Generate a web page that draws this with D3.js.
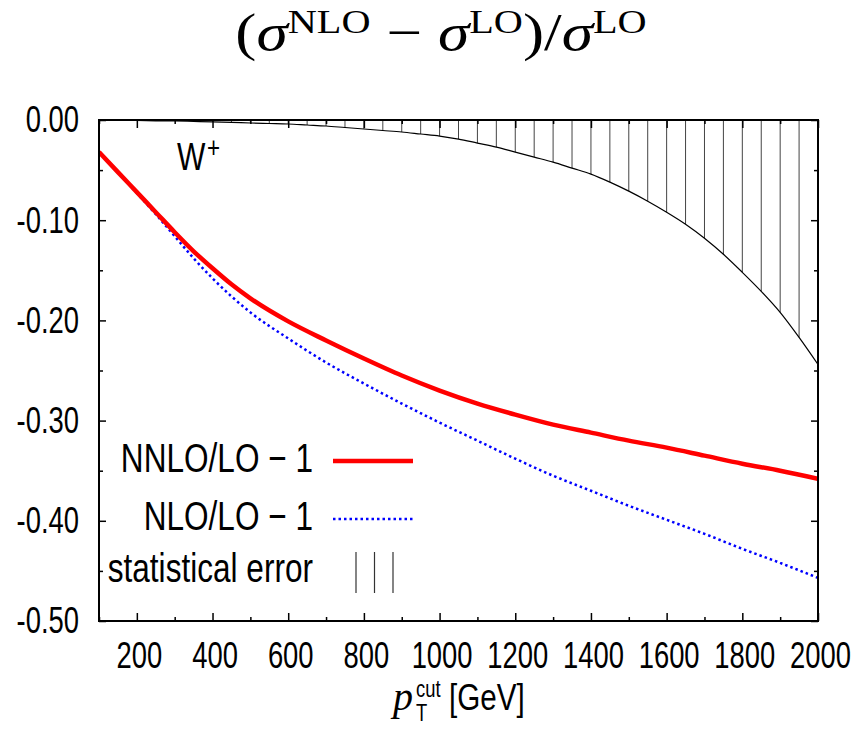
<!DOCTYPE html>
<html>
<head>
<meta charset="utf-8">
<script src="https://cdn.jsdelivr.net/npm/d3@7"></script>
<style>
  body { margin: 0; background: #fff; }
  text { font-family: "Liberation Sans", Arial, sans-serif; fill: #000; }
  .serif { font-family: "Liberation Serif", "DejaVu Serif", serif; }
</style>
</head>
<body>
<div id="chart"></div>
<script>
// pT cut values (GeV) for the two ratio curves
const ptCut = [100, 150, 200, 250, 300, 350, 400, 450, 500, 600, 700, 800, 900, 1000,
               1100, 1200, 1300, 1400, 1500, 1600, 1700, 1800, 1900, 2000];
const nnloRatio = [-0.032, -0.052, -0.072, -0.092, -0.112, -0.131, -0.148, -0.164, -0.178, -0.201,
                   -0.220, -0.238, -0.255, -0.270, -0.283, -0.294, -0.304, -0.312, -0.320, -0.327,
                   -0.335, -0.343, -0.350, -0.358];
const nloRatio = [-0.032, -0.052, -0.073, -0.094, -0.116, -0.138, -0.158, -0.176, -0.192, -0.218,
                  -0.242, -0.263, -0.283, -0.302, -0.320, -0.338, -0.355, -0.370, -0.385, -0.399,
                  -0.413, -0.428, -0.442, -0.457];

// statistical error band (drawn from 0 down to this value)
const errPt = [100, 150, 200, 250, 300, 350, 400, 450, 500, 550, 600, 650, 700, 750, 800, 850,
               900, 950, 1000, 1050, 1100, 1150, 1200, 1250, 1300, 1350, 1400, 1450, 1500, 1550,
               1600, 1650, 1700, 1750, 1800, 1850, 1900, 1950, 2000];
const errBand = [0, -0.0003, -0.0005, -0.0008, -0.001, -0.0014, -0.0018, -0.0023, -0.003, -0.0035,
                 -0.004, -0.005, -0.006, -0.0075, -0.009, -0.0105, -0.012, -0.014, -0.016, -0.019,
                 -0.023, -0.027, -0.032, -0.037, -0.042, -0.048, -0.054, -0.062, -0.071, -0.081,
                 -0.092, -0.104, -0.118, -0.134, -0.152, -0.171, -0.192, -0.217, -0.244];

const xTicks = [200, 400, 600, 800, 1000, 1200, 1400, 1600, 1800, 2000];
const xMinorTicks = [100, 300, 500, 700, 900, 1100, 1300, 1500, 1700, 1900];
const yTicks = [0, -0.1, -0.2, -0.3, -0.4, -0.5];
const yMinorTicks = [-0.05, -0.15, -0.25, -0.35, -0.45];
const legendLabels = ["NNLO/LO \u2212 1", "NLO/LO \u2212 1", "statistical error"];

const width = 859, height = 744;
const margin = { top: 120, left: 99, right: 41, bottom: 123 };
const plotW = width - margin.left - margin.right;
const plotH = height - margin.top - margin.bottom;

// squeeze (or stretch) text horizontally to match the original's faces
function condense(sel, k) {
  sel.each(function() {
    const w = this.getComputedTextLength();
    d3.select(this).attr("textLength", w * k).attr("lengthAdjust", "spacingAndGlyphs");
  });
}

const svg = d3.select("#chart").append("svg")
    .attr("width", width)
    .attr("height", height)
    .style("background", "#fff");

const x = d3.scaleLinear().domain([100, 2000]).range([0, plotW]);
const y = d3.scaleLinear().domain([-0.5, 0]).range([plotH, 0]);

const g = svg.append("g")
    .attr("transform", "translate(" + margin.left + "," + margin.top + ")");

g.append("clipPath").attr("id", "clip")
  .append("rect").attr("width", plotW).attr("height", plotH);

const plot = g.append("g").attr("clip-path", "url(#clip)");

// hatched error band: vertical lines from 0 down to the error curve
plot.selectAll(".hatch")
  .data(errPt.map((p, i) => [p, errBand[i]]))
  .enter().append("line")
    .attr("class", "hatch")
    .attr("x1", d => x(d[0])).attr("x2", d => x(d[0]))
    .attr("y1", y(0)).attr("y2", d => y(d[1]))
    .attr("stroke", "#444")
    .attr("stroke-width", 1);

const line = d3.line().curve(d3.curveMonotoneX);

plot.append("path")
    .attr("d", line(errPt.map((p, i) => [x(p), y(errBand[i])])))
    .attr("fill", "none")
    .attr("stroke", "#000")
    .attr("stroke-width", 1.2);

plot.append("path")
    .attr("d", line(ptCut.map((p, i) => [x(p), y(nloRatio[i])])))
    .attr("fill", "none")
    .attr("stroke", "#0000ff")
    .attr("stroke-width", 2.5)
    .attr("stroke-dasharray", "2.5,3");

plot.append("path")
    .attr("d", line(ptCut.map((p, i) => [x(p), y(nnloRatio[i])])))
    .attr("fill", "none")
    .attr("stroke", "#ff0000")
    .attr("stroke-width", 4.5);

// axes, ticks pointing inward, mirrored on top and right
function styleAxis(sel) {
  sel.select(".domain").remove();
  sel.selectAll(".tick line").attr("stroke", "#000").attr("stroke-width", 1.5);
  sel.selectAll(".tick text").style("font-size", "37px")
     .style("font-family", "'Liberation Sans', Arial, sans-serif");
}

const xAxis = g.append("g").attr("transform", "translate(0," + plotH + ")")
  .call(d3.axisBottom(x).tickValues(xTicks).tickSize(-8).tickPadding(21).tickFormat(d3.format("d")))
  .call(styleAxis);
xAxis.selectAll(".tick text").attr("dx", "2").call(condense, 0.74);
g.append("g").attr("transform", "translate(0," + plotH + ")")
  .call(d3.axisBottom(x).tickValues(xMinorTicks).tickSize(-4).tickFormat(""))
  .call(styleAxis);
g.append("g")
  .call(d3.axisTop(x).tickValues(xTicks).tickSize(-8).tickFormat(""))
  .call(styleAxis);
g.append("g")
  .call(d3.axisTop(x).tickValues(xMinorTicks).tickSize(-4).tickFormat(""))
  .call(styleAxis);

const yAxis = g.append("g")
  .call(d3.axisLeft(y).tickValues(yTicks).tickSize(-7).tickPadding(20).tickFormat(d => d.toFixed(2)))
  .call(styleAxis);
yAxis.selectAll(".tick text").call(condense, 0.74);
g.append("g")
  .call(d3.axisLeft(y).tickValues(yMinorTicks).tickSize(-4).tickFormat(""))
  .call(styleAxis);
g.append("g").attr("transform", "translate(" + plotW + ",0)")
  .call(d3.axisRight(y).tickValues(yTicks).tickSize(-7).tickFormat(""))
  .call(styleAxis);
g.append("g").attr("transform", "translate(" + plotW + ",0)")
  .call(d3.axisRight(y).tickValues(yMinorTicks).tickSize(-4).tickFormat(""))
  .call(styleAxis);

g.append("rect")
    .attr("width", plotW).attr("height", plotH)
    .attr("fill", "none").attr("stroke", "#000").attr("stroke-width", 2);

// W+ label
const wLabel = g.append("text").attr("x", 78).attr("y", 50).style("font-size", "39px");
wLabel.append("tspan").text("W");
wLabel.append("tspan").attr("dx", 2).attr("dy", -12).style("font-size", "29px")
  .style("font-weight", 300).text("+");
wLabel.call(condense, 0.8);

// legend
const legend = g.append("g");
const legendY = [352, 410, 462];
legend.selectAll(".ltext")
  .data(legendLabels)
  .enter().append("text")
    .attr("class", "ltext")
    .attr("x", 214)
    .attr("y", (d, i) => legendY[i])
    .attr("text-anchor", "end")
    .style("font-size", "41px")
    .text(d => d)
    .call(condense, 0.77);

legend.append("line")
    .attr("x1", 234).attr("x2", 314).attr("y1", 341).attr("y2", 341)
    .attr("stroke", "#ff0000").attr("stroke-width", 4.5);
legend.append("line")
    .attr("x1", 234).attr("x2", 314).attr("y1", 399).attr("y2", 399)
    .attr("stroke", "#0000ff").attr("stroke-width", 2.5).attr("stroke-dasharray", "2.5,3");
legend.selectAll(".lhatch")
  .data([257, 275.5, 294])
  .enter().append("line")
    .attr("class", "lhatch")
    .attr("x1", d => d).attr("x2", d => d)
    .attr("y1", 432).attr("y2", 473)
    .attr("stroke", "#333").attr("stroke-width", 1.2);

// title
const title = svg.append("text").attr("class", "serif")
    .attr("x", 441).attr("y", 50).attr("text-anchor", "middle")
    .style("font-size", "52px");
title.append("tspan").text("(");
title.append("tspan").style("font-style", "italic").text("\u03c3");
title.append("tspan").attr("dy", -17).style("font-size", "33px").text("NLO");
title.append("tspan").attr("dy", 17).text(" \u2212 ");
title.append("tspan").style("font-style", "italic").text("\u03c3");
title.append("tspan").attr("dy", -17).style("font-size", "33px").text("LO");
title.append("tspan").attr("dy", 17).text(")/");
title.append("tspan").style("font-style", "italic").text("\u03c3");
title.append("tspan").attr("dy", -17).style("font-size", "33px").text("LO");
title.call(condense, 1.22);

// x axis label
svg.append("text").attr("class", "serif")
    .attr("x", 393).attr("y", 710)
    .style("font-style", "italic").style("font-size", "40px").text("p");
svg.append("text").attr("x", 416).attr("y", 697)
    .style("font-size", "23px").text("cut").call(condense, 0.8);
svg.append("text").attr("x", 416).attr("y", 721)
    .style("font-size", "23px").text("T").call(condense, 0.8);
svg.append("text").attr("x", 449).attr("y", 710)
    .style("font-size", "37px").text("[GeV]").call(condense, 0.8);
</script>
</body>
</html>
